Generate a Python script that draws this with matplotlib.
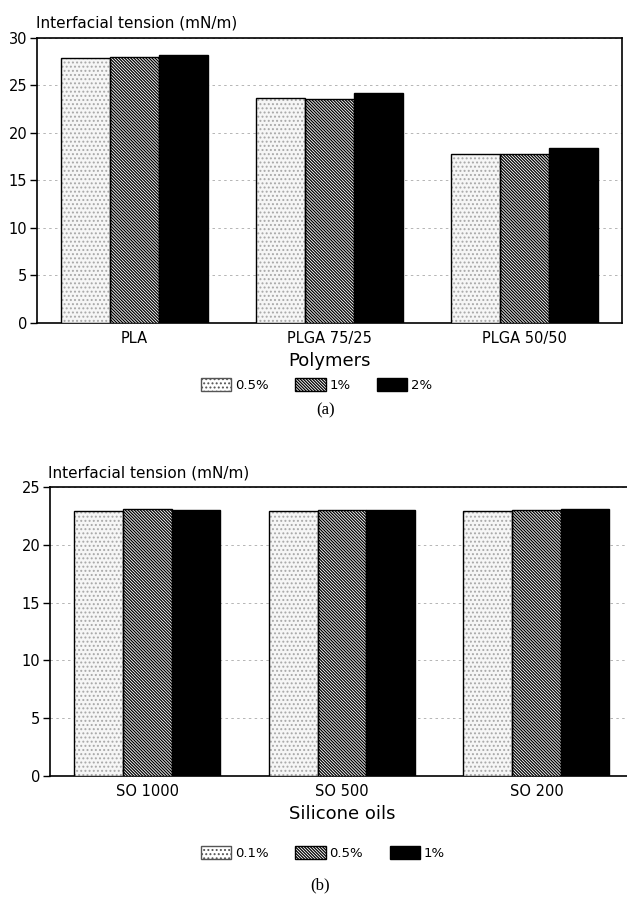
import numpy as np
import matplotlib
matplotlib.use("Agg")
import matplotlib.pyplot as plt
from matplotlib.patches import Patch

plt.rcParams["font.family"] = ["DejaVu Sans"]
plt.rcParams["hatch.linewidth"] = 0.9

# panel (a): polymers
polymers = ["PLA", "PLGA 75/25", "PLGA 50/50"]
polymer_conc = ["0.5%", "1%", "2%"]
tension_05 = [27.9, 23.7, 17.8]
tension_1 = [28.0, 23.6, 17.8]
tension_2 = [28.2, 24.2, 18.4]
polymer_values = [tension_05, tension_1, tension_2]

# panel (b): silicone oils
oils = ["SO 1000", "SO 500", "SO 200"]
oil_conc = ["0.1%", "0.5%", "1%"]
oil_01 = [22.9, 22.95, 22.95]
oil_05 = [23.1, 23.05, 23.0]
oil_1 = [23.0, 23.0, 23.1]
oil_values = [oil_01, oil_05, oil_1]

BAR_W = 0.25


def series_style(i):
    if i == 0:
        return dict(facecolor="#f6f6f6", hatch="....", edgecolor="#a8a8a8", linewidth=0)
    if i == 1:
        return dict(facecolor="white", hatch="\\" * 11, edgecolor="black", linewidth=1.0)
    return dict(facecolor="black", edgecolor="black", linewidth=1.0)


def draw_panel(ax, cats, values, ymax, xlabel, conc):
    x = np.arange(len(cats))
    for i, vals in enumerate(values):
        pos = x + (i - 1) * BAR_W
        ax.bar(pos, vals, BAR_W, zorder=3, **series_style(i))
        if i == 0:
            ax.bar(pos, vals, BAR_W, facecolor="none", edgecolor="black",
                   linewidth=1.0, zorder=4)
    ax.set_xlim(-0.5, 2.5)
    ax.set_ylim(0, ymax)
    ax.set_yticks(np.arange(0, ymax + 1, 5))
    ax.set_xticks(x)
    ax.set_xticklabels(cats, fontsize=10.5)
    ax.tick_params(axis="x", length=0, pad=6)
    ax.tick_params(axis="y", length=5, width=1, labelsize=10.5, pad=2)
    ax.yaxis.grid(True, linestyle=(0, (3, 4)), color="#aaaaaa", linewidth=0.6, zorder=0)
    for s in ax.spines.values():
        s.set_linewidth(1.2)
    ax.set_xlabel(xlabel, fontsize=13, labelpad=4)

    handles = []
    for i, c in enumerate(conc):
        st = series_style(i)
        if i == 0:
            st = dict(facecolor="white", hatch="....", edgecolor="#555555", linewidth=1.0)
        handles.append(Patch(label=c, **st))
    return handles


fig = plt.figure(figsize=(6.27, 9.02), dpi=100)

ax1 = fig.add_axes([0.059, 0.642, 0.933, 0.316])
h1 = draw_panel(ax1, polymers, polymer_values, 30, "Polymers", polymer_conc)
fig.text(0.058, 0.975, "Interfacial tension (mN/m)", fontsize=11, ha="left", va="center")
fig.legend(handles=h1, loc="center", bbox_to_anchor=(0.505, 1 - 385 / 902), ncol=3,
           frameon=False, fontsize=9.5, handlelength=2.3, handleheight=1.1,
           handletextpad=0.3, columnspacing=2.0)
fig.text(0.52, 1 - 410 / 902, "(a)", fontsize=12, family="Liberation Serif",
         ha="center", va="center")

ax2 = fig.add_axes([0.0797, 0.1397, 0.931, 0.3203])
ax2.spines["right"].set_visible(False)
h2 = draw_panel(ax2, oils, oil_values, 25, "Silicone oils", oil_conc)
fig.text(0.077, 1 - 473 / 902, "Interfacial tension (mN/m)", fontsize=11, ha="left", va="center")
fig.legend(handles=h2, loc="center", bbox_to_anchor=(0.515, 1 - 853 / 902), ncol=3,
           frameon=False, fontsize=9.5, handlelength=2.3, handleheight=1.1,
           handletextpad=0.3, columnspacing=2.0)
fig.text(0.51, 1 - 885 / 902, "(b)", fontsize=12, family="Liberation Serif",
         ha="center", va="center")

fig.savefig("out.png", dpi=100)
